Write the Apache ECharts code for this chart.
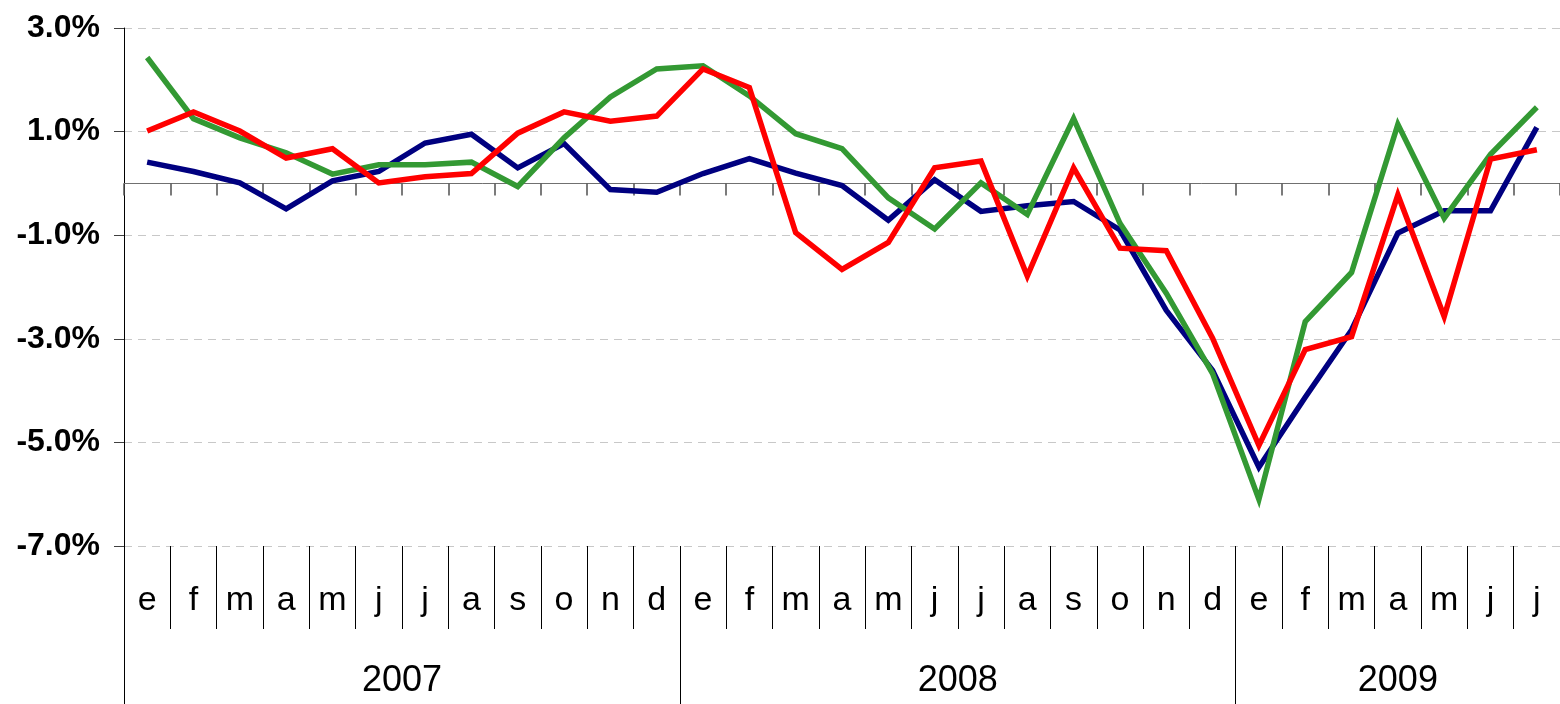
<!DOCTYPE html>
<html>
<head>
<meta charset="utf-8">
<script src="https://cdn.jsdelivr.net/npm/echarts@6/dist/echarts.min.js"></script>
<style>
  html, body { margin: 0; padding: 0; background: #fff; }
  #chart { width: 1560px; height: 704px; }
</style>
</head>
<body>
<div id="chart"></div>
<script>
// months e..d 2007, e..d 2008, e..j 2009
const months = [
  'e', 'f', 'm', 'a', 'm', 'j', 'j', 'a', 's', 'o', 'n', 'd',
  'e', 'f', 'm', 'a', 'm', 'j', 'j', 'a', 's', 'o', 'n', 'd',
  'e', 'f', 'm', 'a', 'm', 'j', 'j'
]
const years = ['2007', '2008', '2009']
const monthsPerYear = [12, 12, 7]

// values in %
const blueValues = [
  0.41, 0.23, 0.01, -0.49, 0.05, 0.23, 0.78, 0.95, 0.30, 0.77, -0.12, -0.17,
  0.19, 0.48, 0.20, -0.04, -0.71, 0.07, -0.54, -0.43, -0.35, -0.90, -2.45, -3.61,
  -5.48, -4.13, -2.83, -0.96, -0.53, -0.53, 1.08
]
const greenValues = [
  2.43, 1.25, 0.88, 0.59, 0.18, 0.36, 0.36, 0.41, -0.06, 0.88, 1.67, 2.21,
  2.27, 1.69, 0.96, 0.67, -0.28, -0.88, 0.01, -0.60, 1.25, -0.77, -2.12, -3.67,
  -6.10, -2.67, -1.72, 1.14, -0.67, 0.56, 1.47
]
const redValues = [
  1.01, 1.38, 1.01, 0.49, 0.67, 0.01, 0.13, 0.19, 0.97, 1.38, 1.20, 1.30,
  2.21, 1.85, -0.95, -1.66, -1.14, 0.30, 0.43, -1.79, 0.30, -1.25, -1.30, -2.99,
  -5.06, -3.21, -2.96, -0.22, -2.57, 0.47, 0.65
]

const yMin = -7
const yMax = 3
const yStep = 2

// year boundaries and centres, in month units
const yearBounds = [0]
const yearCentres = []
monthsPerYear.forEach((n) => {
  const start = yearBounds[yearBounds.length - 1]
  yearCentres.push(start + n / 2)
  yearBounds.push(start + n)
})

const font = '"Liberation Sans", Arial, sans-serif'

const lineSeries = (name, data, color) => ({
  name,
  type: 'line',
  xAxisIndex: 0,
  data,
  symbol: 'none',
  lineStyle: { color, width: 5.5, join: 'miter' },
  animation: false
})

const chart = echarts.init(document.getElementById('chart'))
chart.setOption({
  animation: false,
  grid: { left: 124, top: 28, width: 1441, height: 518, containLabel: false },
  xAxis: [
    {
      // zero line with small ticks
      type: 'category',
      data: months,
      position: 'bottom',
      axisLine: { onZero: true, lineStyle: { color: '#707070', width: 1 } },
      axisTick: { show: true, length: 12, lineStyle: { color: '#505050', width: 1.5 } },
      axisLabel: { show: false },
      splitLine: { show: false }
    },
    {
      // month labels under the plot
      type: 'category',
      data: months,
      position: 'bottom',
      axisLine: { show: false, onZero: false },
      axisTick: { show: true, length: 83, lineStyle: { color: '#000', width: 1 } },
      axisLabel: {
        show: true,
        interval: 0,
        margin: 38,
        fontFamily: font,
        fontSize: 34,
        color: '#000'
      },
      splitLine: { show: false }
    },
    {
      // year labels
      type: 'value',
      min: 0,
      max: months.length,
      position: 'bottom',
      axisLine: { show: false, onZero: false },
      axisTick: {
        show: true,
        length: 160,
        customValues: yearBounds.slice(0, -1),
        lineStyle: { color: '#000', width: 1 }
      },
      axisLabel: {
        show: true,
        margin: 117,
        customValues: yearCentres,
        formatter: (v) => years[yearCentres.indexOf(v)] || '',
        fontFamily: font,
        fontSize: 36,
        color: '#000'
      },
      splitLine: { show: false }
    }
  ],
  yAxis: {
    type: 'value',
    min: yMin,
    max: yMax,
    interval: yStep,
    axisLine: { show: true, lineStyle: { color: '#000', width: 1 } },
    axisTick: { show: true, length: 10, lineStyle: { color: '#404040', width: 1 } },
    axisLabel: {
      margin: 24,
      formatter: (v) => v.toFixed(1) + '%',
      fontFamily: font,
      fontWeight: 'bold',
      fontSize: 32,
      color: '#000'
    },
    splitLine: { show: true, lineStyle: { color: '#c8c8c8', type: [8, 6], width: 1 } }
  },
  series: [
    lineSeries('azul', blueValues, '#000080'),
    lineSeries('verde', greenValues, '#339933'),
    lineSeries('rojo', redValues, '#ff0000')
  ]
})
</script>
</body>
</html>
